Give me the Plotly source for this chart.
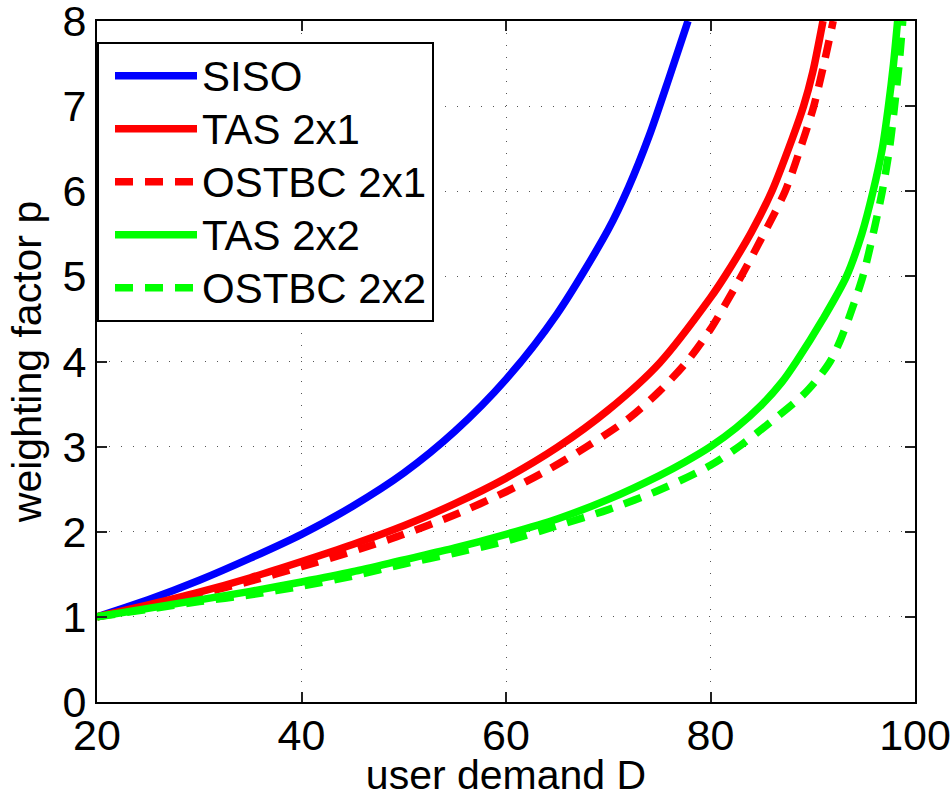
import plotly.graph_objects as go

# SISO
siso_D = [20, 25, 30, 35, 40, 45, 50, 55, 60, 65, 70, 72, 74, 76, 77.8]
siso_p = [1.0, 1.2, 1.43, 1.69, 1.97, 2.3, 2.69, 3.18, 3.79, 4.56, 5.55, 6.05, 6.65, 7.35, 8.0]

# TAS 2x1
tas21_D = [20, 25, 30, 35, 40, 45, 50, 55, 60, 65, 70, 75, 80, 81.4, 84, 86, 88, 89.1, 90, 91.0]
tas21_p = [1.0, 1.14, 1.29, 1.46, 1.65, 1.85, 2.07, 2.33, 2.63, 2.99, 3.43, 3.98, 4.75, 5.0, 5.52, 6.0, 6.62, 7.0, 7.4, 8.0]

# OSTBC 2x1
ost21_D = [20, 25, 30, 35, 40, 45, 50, 55, 60, 64, 67.9, 72, 75, 77.7, 80, 83.0, 85, 87.3, 89, 90.1, 91.1, 92.0]
ost21_p = [1.0, 1.13, 1.27, 1.42, 1.59, 1.77, 1.97, 2.2, 2.47, 2.72, 3.0, 3.33, 3.65, 4.0, 4.38, 5.0, 5.45, 6.0, 6.58, 7.0, 7.5, 8.0]

# TAS 2x2
tas22_D = [20, 25, 30, 35, 40, 45, 50, 55, 60, 65, 70, 75, 77.5, 80, 82.5, 85, 87, 88.4, 91, 93.3, 94.8, 95.9, 96.8, 97.4, 97.9, 98.3]
tas22_p = [1.0, 1.1, 1.2, 1.3, 1.41, 1.53, 1.67, 1.81, 1.97, 2.15, 2.38, 2.66, 2.82, 3.0, 3.22, 3.49, 3.76, 4.0, 4.5, 5.0, 5.5, 6.0, 6.5, 7.0, 7.5, 8.0]

# OSTBC 2x2
ost22_D = [20, 25, 30, 35, 40, 45, 50, 55, 60, 65, 70, 75, 80, 83, 86, 89, 90.5, 91.7, 92.7, 93.5, 94.9, 96.0, 96.8, 97.5, 98.0, 98.45, 98.8]
ost22_p = [1.0, 1.09, 1.18, 1.26, 1.36, 1.48, 1.62, 1.75, 1.89, 2.07, 2.26, 2.49, 2.78, 3.02, 3.3, 3.6, 3.8, 4.0, 4.25, 4.5, 5.0, 5.55, 6.0, 6.5, 7.0, 7.5, 8.0]

x_ticks = [20, 40, 60, 80, 100]
y_ticks = [0, 1, 2, 3, 4, 5, 6, 7, 8]

FONT = "Liberation Sans, Arial, Helvetica, sans-serif"
LW = 7.5
DASH = "18px,12px"

fig = go.Figure()
series = [
    ("SISO", siso_D, siso_p, "#0000ff", "solid"),
    ("TAS 2x1", tas21_D, tas21_p, "#ff0000", "solid"),
    ("OSTBC 2x1", ost21_D, ost21_p, "#ff0000", DASH),
    ("TAS 2x2", tas22_D, tas22_p, "#00ff00", "solid"),
    ("OSTBC 2x2", ost22_D, ost22_p, "#00ff00", DASH),
]
for name, xs, ys, col, dash in series:
    fig.add_trace(go.Scatter(
        x=xs, y=ys, mode="lines",
        name="<span style='font-size:42px'>" + name + "</span>",
        line=dict(color=col, width=LW, dash=dash, shape="spline", smoothing=0.8)))

axis_common = dict(
    showline=True, linecolor="black", linewidth=2, mirror="ticks",
    ticks="inside", ticklen=10, tickwidth=1.5, tickcolor="#222",
    showgrid=True, gridcolor="#555", gridwidth=1, griddash="1px,11px",
    zeroline=False, automargin=False, ticklabeloverflow="allow",
    tickfont=dict(family=FONT, size=43, color="black"),
)

fig.update_xaxes(range=[20, 100], tickvals=x_ticks, ticktext=[str(v) for v in x_ticks],
                 ticklabelstandoff=-6,
                 title=dict(text="user demand D", font=dict(family=FONT, size=41, color="black")),
                 **axis_common)
fig.update_yaxes(range=[0, 8], tickvals=y_ticks, ticktext=[str(v) for v in y_ticks],
                 title=dict(text="weighting factor p", font=dict(family=FONT, size=41, color="black"), standoff=8),
                 **axis_common)

fig.update_layout(
    width=951, height=798,
    margin=dict(l=97, r=36, t=21, b=96),
    paper_bgcolor="white", plot_bgcolor="white",
    font=dict(family=FONT, size=41, color="black"),
    legend=dict(x=0.0, y=0.969, xanchor="left", yanchor="top",
                bgcolor="white", bordercolor="black", borderwidth=2,
                font=dict(family=FONT, size=38.5, color="black"),
                itemwidth=82, indentation=11, tracegroupgap=0),
    showlegend=True,
)

fig.write_html("out.html")
